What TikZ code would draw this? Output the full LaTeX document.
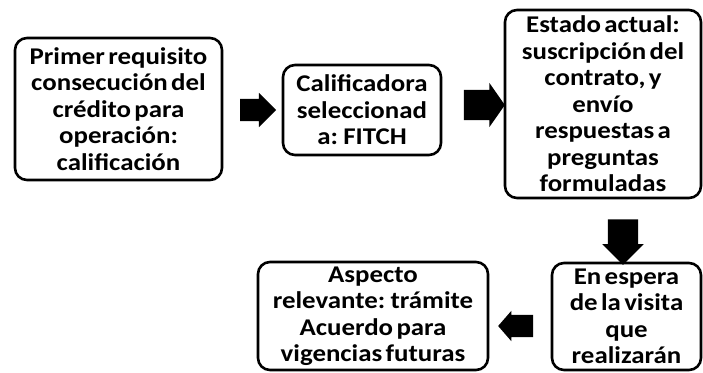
\documentclass[tikz,border=0pt]{standalone}
\usepackage{fontspec}
\setmainfont{Carlito}[FakeStretch=1.12,WordSpace=0.55]
\usetikzlibrary{shapes.arrows}

\begin{document}
\begin{tikzpicture}[x=1pt,y=-1pt,box node/.style={draw,line width=2.6pt,rounded corners=12pt,align=center,inner sep=0pt,font=\fontsize{24}{26.5}\selectfont\bfseries},arrow node/.style={single arrow,fill=black,draw=none,inner sep=11pt,single arrow head extend=6pt,minimum height=36pt}]
            \useasboundingbox (0,0) rectangle (703,372);
            \node[box node,minimum width=207pt,minimum height=142pt] (req) at (118.5,109) {Primer requisito\\consecución del\\crédito para\\operación:\\calificación};
            \node[box node,minimum width=158pt,minimum height=90pt] (fitch) at (362,110) {Calificadora\\seleccionad\\a: FITCH};
            \node[box node,minimum width=196pt,minimum height=188pt] (estado) at (603,104) {Estado actual:\\suscripción del\\contrato, y\\envío\\respuestas a\\preguntas\\formuladas};
            \node[box node,minimum width=149pt,minimum height=107pt] (espera) at (626.5,316.5) {En espera\\de la visita\\que\\realizarán};
            \node[box node,minimum width=230pt,minimum height=108pt] (aspecto) at (373,316) {Aspecto\\relevante: trámite\\Acuerdo para\\vigencias futuras};

            \node[arrow node] (a1) at (252.5,110) {};
            \node[arrow node,inner sep=15pt,single arrow head extend=7pt,single arrow tip angle=110,minimum height=29pt] (a2) at (479,105) {};
            \node[arrow node,rotate=-90,inner sep=15pt,single arrow head extend=5.5pt,minimum height=35pt] (a3) at (623,234.5) {};
            \node[arrow node,rotate=180,inner sep=11pt,single arrow head extend=4pt,single arrow tip angle=98,minimum height=35pt] (a4) at (520.5,326) {};
        \end{tikzpicture}
\end{document}
